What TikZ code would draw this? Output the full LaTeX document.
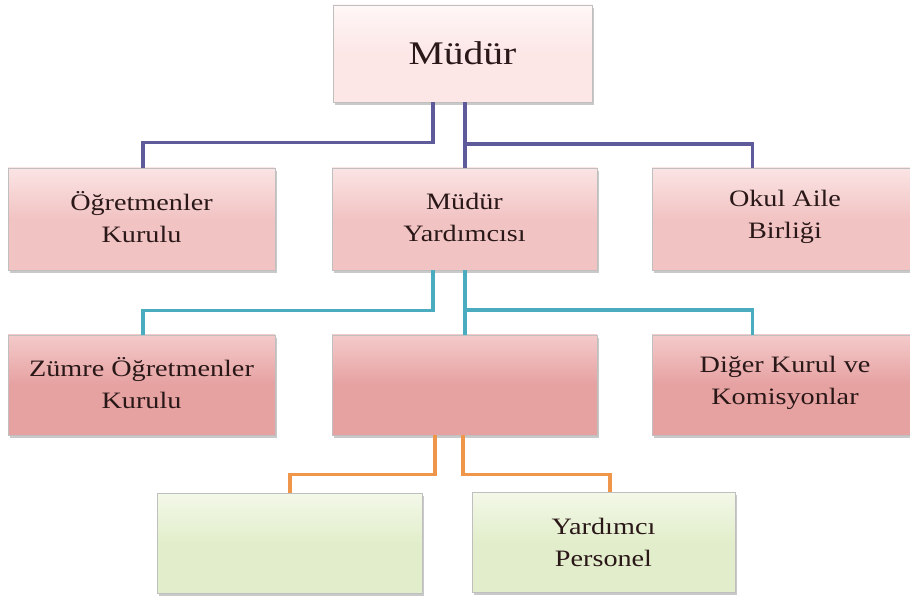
\documentclass[tikz,border=0pt]{standalone}
\usepackage{fontspec}
\setmainfont[FakeStretch=1.2]{Liberation Serif}
\usetikzlibrary{shadows,calc}
\definecolor{txt}{HTML}{2A1818}
\definecolor{pinkA}{HTML}{FCE6E6}
\definecolor{pinkAt}{HTML}{FFF7F7}
\definecolor{pinkB}{HTML}{F2C3C3}
\definecolor{pinkBt}{HTML}{FBE4E4}
\definecolor{pinkC}{HTML}{E6A1A1}
\definecolor{pinkCt}{HTML}{F4CACA}
\definecolor{grn}{HTML}{E2EECB}
\definecolor{grnt}{HTML}{F3F8E8}
\definecolor{purp}{HTML}{5F5A9A}
\definecolor{teal}{HTML}{4BACC0}
\definecolor{orng}{HTML}{F0964A}
\tikzset{
  boxbase/.style={rectangle, inner sep=0pt, align=center, text=txt,
    draw=black!25, line width=0.6pt,
    drop shadow={shadow xshift=1.5pt, shadow yshift=-3pt, opacity=0.35, fill=black!60},
    font=\fontsize{23.5}{32}\selectfont},
  topbox/.style={boxbase, minimum width=259pt, minimum height=97pt,
    top color=pinkAt, bottom color=pinkA, middle color=pinkA,
    font=\fontsize{33}{40}\selectfont},
  rowtwo/.style={boxbase, minimum height=102pt, top color=pinkBt, bottom color=pinkB, middle color=pinkB},
  rowthree/.style={boxbase, minimum height=100pt, top color=pinkCt, bottom color=pinkC, middle color=pinkC},
  rowfour/.style={boxbase, minimum height=100pt, top color=grnt, bottom color=grn, middle color=grn},
  conn/.style={line width=3.5pt, line join=miter},
}
\begin{document}
\begin{tikzpicture}[x=1pt,y=-1pt]
\useasboundingbox[fill=white] (0,0) rectangle (910,601);
% nodes
\node[topbox] (mudur) at (462.5,53.5) {Müdür};
\node[rowtwo, minimum width=267pt] (ogr) at (141.5,219) {Öğretmenler\\Kurulu\vspace*{4pt}};
\node[rowtwo, minimum width=265pt] (myard) at (464.5,219) {Müdür\\Yardımcısı\vspace*{4pt}};
\node[rowtwo, minimum width=266pt] (okul) at (785,219) {Okul Aile\\Birliği\vspace*{4pt}};
\node[rowthree, minimum width=267pt] (zumre) at (141.5,385) {Zümre Öğretmenler\\Kurulu\vspace*{4pt}};
\node[rowthree, minimum width=265pt] (bos) at (464.5,385) {};
\node[rowthree, minimum width=266pt] (diger) at (785,385) {Diğer Kurul ve\\Komisyonlar\vspace*{4pt}};
\node[rowfour, minimum width=265pt] (yesil) at (289.5,543) {};
\node[rowfour, minimum width=263pt] (yp) at (603.5,542) {Yardımcı\\Personel};
% connectors level 1
\draw[conn, purp] ([xshift=-29.5pt]mudur.south) |- ($(ogr.north)+(1.5,-25)$) -- ([xshift=1.5pt]ogr.north);
\draw[conn, purp] ([xshift=2.5pt]mudur.south) -- ($(myard.north)+(0.5,0)$);
\draw[conn, purp] ($([xshift=2.5pt]mudur.south)!0.637!([xshift=0.5pt]myard.north)$) -| ([xshift=101pt]okul.north west);
% connectors level 2
\draw[conn, teal] ([xshift=-31.5pt]myard.south) |- ($(zumre.north)+(1.5,-24)$) -- ([xshift=1.5pt]zumre.north);
\draw[conn, teal] ([xshift=0.5pt]myard.south) -- ([xshift=0.5pt]bos.north);
\draw[conn, teal] ($([xshift=0.5pt]myard.south)!0.615!([xshift=0.5pt]bos.north)$) -| ([xshift=101pt]diger.north west);
% connectors level 3
\draw[conn, orng] ([xshift=-29.5pt]bos.south) |- ($(yesil.north)+(0.5,-18)$) -- ([xshift=0.5pt]yesil.north);
\draw[conn, orng] ([xshift=-1.5pt]bos.south) |- ($(yp.north)+(6.5,-17)$) -- ([xshift=6.5pt]yp.north);
\end{tikzpicture}
\end{document}
